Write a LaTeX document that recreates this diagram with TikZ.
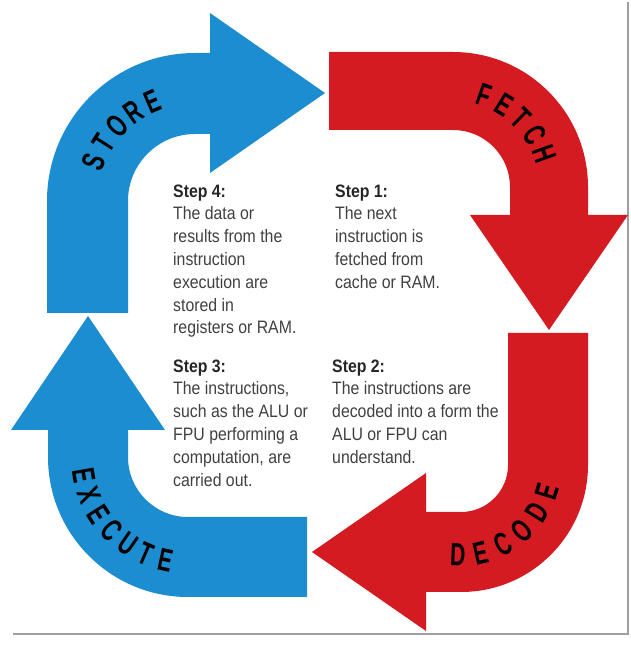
\documentclass[tikz,border=0pt]{standalone}
\usepackage{fontspec}
\setmainfont{Liberation Sans}
\newcommand{\lblletter}[1]{\scalebox{0.66}[1]{\fontsize{32}{32}\selectfont\bfseries #1}}
\newcommand{\stepblock}[1]{\scalebox{0.88}[1]{\fontsize{18}{22.8}\selectfont\begin{tabular}{@{}l@{}}#1\end{tabular}}}
\definecolor{cpuBlue}{HTML}{1B8DD0}
\definecolor{cpuRed}{HTML}{D41B22}
\definecolor{txtGray}{HTML}{404040}
\definecolor{ttlGray}{HTML}{262626}
\begin{document}
\begin{tikzpicture}[x=1pt,y=1pt,
  blueArrow/.style={fill=cpuBlue, draw=none},
  redArrow/.style={fill=cpuRed, draw=none},
  lbl/.style={text=black, inner sep=0pt, anchor=center},
  stepText/.style={text=txtGray, anchor=north west, inner sep=0pt},
  frameLine/.style={draw=gray!75, line width=2pt}]
\useasboundingbox (0,0) rectangle (631,648);

% frame
\coordinate (frTop) at (628,646);
\coordinate (frCorner) at (628,14);
\coordinate (frLeft) at (13,14);
\draw[frameLine] (frTop) -- (frCorner) -- (frLeft);

% centres of the four bends
\coordinate (c1) at (195,447);
\coordinate (c2) at (453,461);
\coordinate (c3) at (461,183);
\coordinate (c4) at (188,191);

% STORE (blue, top left)
\fill[blueArrow] (47,335) -- (47,447) arc[start angle=180,end angle=90,radius=148]
  -- (210,595) -- (210,635) -- (325,555) -- (210,475) -- (210,514) -- (195,514)
  arc[start angle=90,end angle=180,radius=67] -- (128,335) -- cycle;

% FETCH (red, top right)
\fill[redArrow] (329,596) -- (453,596) arc[start angle=90,end angle=0,radius=135]
  -- (588,433) -- (628,433) -- (549,318) -- (470,433) -- (510,433) -- (510,461)
  arc[start angle=0,end angle=90,radius=57] -- (329,518) -- cycle;

% DECODE (red, bottom right)
\fill[redArrow] (588,315) -- (588,183) arc[start angle=0,end angle=-90,radius=127]
  -- (426,56) -- (426,17) -- (312,96) -- (426,175) -- (426,136) -- (461,136)
  arc[start angle=-90,end angle=0,radius=47] -- (508,315) -- cycle;

% EXECUTE (blue, bottom left)
\fill[blueArrow] (307,51) -- (188,51) arc[start angle=-90,end angle=-180,radius=140]
  -- (48,218) -- (11,218) -- (88,332) -- (165,218) -- (128,218) -- (128,191)
  arc[start angle=180,end angle=270,radius=60] -- (307,131) -- cycle;

% curved labels
\foreach \l [count=\i from 0] in {S,T,O,R,E} {
  \pgfmathsetmacro\ang{159-\i*11.4}
  \node[lbl, rotate=\ang-90, name=store\i] at ([shift={(\ang:108)}]c1) {\lblletter{\l}};
}
\foreach \l [count=\i from 0] in {F,E,T,C,H} {
  \pgfmathsetmacro\ang{71-\i*12.8}
  \node[lbl, rotate=\ang-90, name=fetch\i] at ([shift={(\ang:97)}]c2) {\lblletter{\l}};
}
\foreach \l [count=\i from 0] in {D,E,C,O,D,E} {
  \pgfmathsetmacro\ang{268+\i*15}
  \node[lbl, rotate=\ang+90, name=decode\i] at ([shift={(\ang:90)}]c3) {\lblletter{\l}};
}
\foreach \l [count=\i from 0] in {E,X,E,C,U,T,E} {
  \pgfmathsetmacro\ang{190+\i*11.3}
  \node[lbl, rotate=\ang+90, name=execute\i] at ([shift={(\ang:106)}]c4) {\lblletter{\l}};
}

% step texts
\node[stepText] (step4) at (173,467) {\stepblock{\textcolor{ttlGray}{\bfseries Step 4:}\\The data or\\results from the\\instruction\\execution are\\stored in\\registers or RAM.}};
\node[stepText] (step1) at (335,467) {\stepblock{\textcolor{ttlGray}{\bfseries Step 1:}\\The next\\instruction is\\fetched from\\cache or RAM.}};
\node[stepText] (step3) at (173,292) {\stepblock{\textcolor{ttlGray}{\bfseries Step 3:}\\The instructions,\\such as the ALU or\\FPU performing a\\computation, are\\carried out.}};
\node[stepText] (step2) at (332,292) {\stepblock{\textcolor{ttlGray}{\bfseries Step 2:}\\The instructions are\\decoded into a form the\\ALU or FPU can\\understand.}};
\end{tikzpicture}
\end{document}
